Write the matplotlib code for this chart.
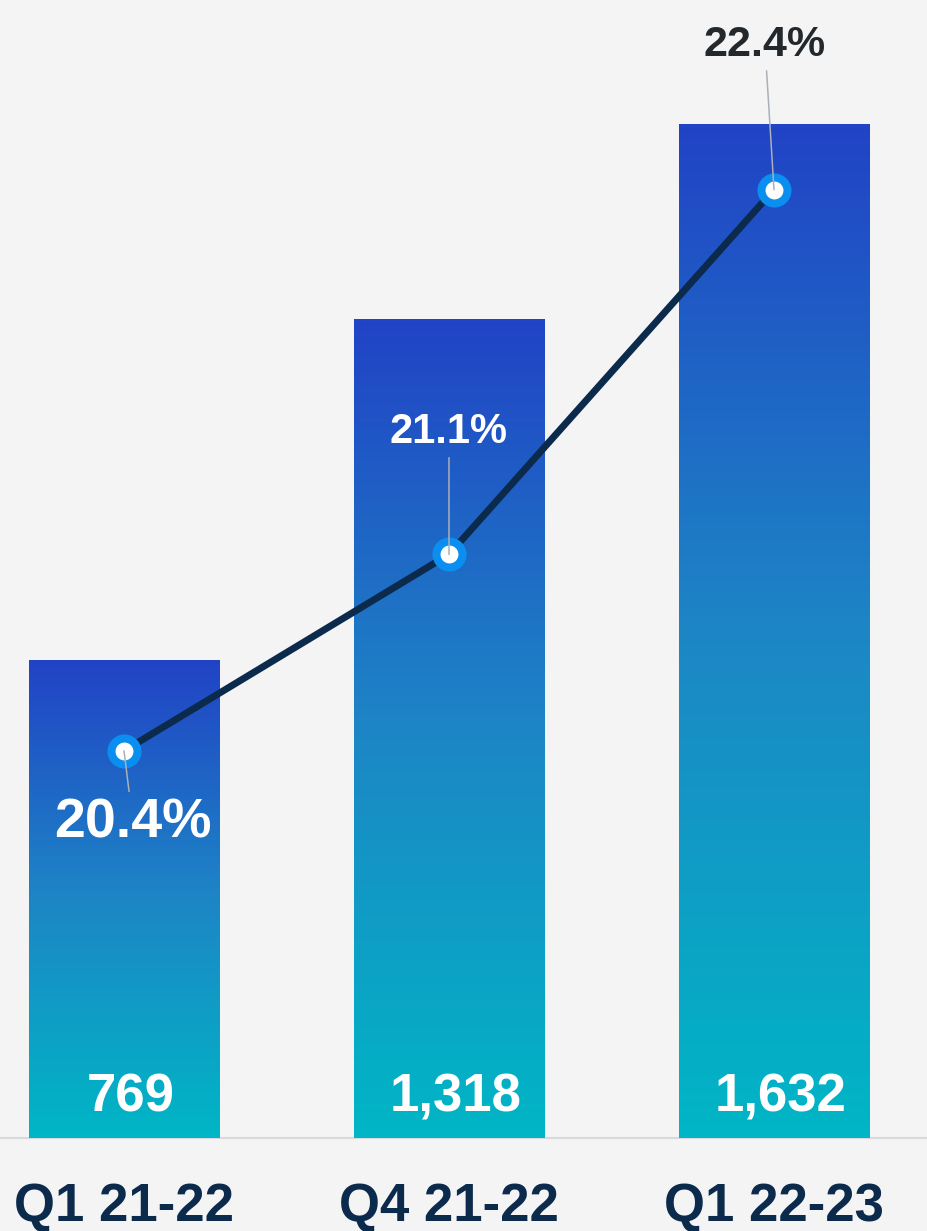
import matplotlib.pyplot as plt
import numpy as np
from matplotlib.colors import LinearSegmentedColormap

quarters = ['Q1 21-22', 'Q4 21-22', 'Q1 22-23']
volumes = [769, 1318, 1632]
volume_labels = ['769', '1,318', '1,632']
shares = [20.4, 21.1, 22.4]
share_labels = ['20.4%', '21.1%', '22.4%']

BG = '#f4f4f4'
NAVY = '#0b2a4c'

plt.rcParams['font.family'] = ['Liberation Sans', 'DejaVu Sans']
plt.rcParams['font.weight'] = 'bold'

fig = plt.figure(figsize=(9.27, 12.31), dpi=100, facecolor=BG)
ax = fig.add_axes([0, 93 / 1231, 1, 1138 / 1231])
ax.set_facecolor(BG)

x = np.arange(len(quarters))
bars = ax.bar(x, volumes, width=0.585, color='none', linewidth=0)

# vertical gradient inside each bar
grad = LinearSegmentedColormap.from_list(
    'bar_grad', [(0, '#00b6c6'), (0.5, '#1d86c5'), (1, '#2143c6')])
for b in bars:
    x0, y0 = b.get_x(), b.get_y()
    w, h = b.get_width(), b.get_height()
    ax.imshow(np.linspace(0, 1, 256).reshape(-1, 1), cmap=grad, origin='lower',
              extent=[x0, x0 + w, y0, y0 + h], aspect='auto', zorder=1)

ax.set_xlim(-0.3815, 2.4708)
ax.set_ylim(0, 1832)
ax.axhline(0, color='#d5dade', lw=1.5, clip_on=False, zorder=0)
for s in ax.spines.values():
    s.set_visible(False)
ax.set_yticks([])
ax.set_xticks(x, quarters, fontsize=38, color=NAVY)
ax.tick_params(axis='x', length=0, pad=32)

for xi, lbl in zip(x, volume_labels):
    ax.annotate(lbl, xy=(xi, 0), xytext=(5, 29.5), textcoords='offset points',
                ha='center', va='center', color='white', fontsize=38, zorder=4)

# share line on secondary axis
ax2 = ax.twinx()
ax2.set_ylim(19.02, 23.076)
ax2.set_yticks([])
for s in ax2.spines.values():
    s.set_visible(False)
ax2.plot(x, shares, color=NAVY, lw=5, marker='o', ms=18.7, mfc='white',
         mec='#0a8ff0', mew=5.8, zorder=3)

offsets = [(6.5, -52), (0, 88), (-6.5, 104)]
sizes = [40, 30, 31]
colors = ['white', 'white', '#22282c']
for xi, v, lbl, off, fs, c in zip(x, shares, share_labels, offsets, sizes, colors):
    ax2.annotate(lbl, xy=(xi, v), xytext=off, textcoords='offset points',
                 ha='center', va='center', color=c, fontsize=fs, zorder=5,
                 arrowprops=dict(arrowstyle='-', color='#a9b0b8', lw=1.1,
                                 shrinkA=2, shrinkB=0))

fig.savefig('out.png', dpi=100, facecolor=BG)
